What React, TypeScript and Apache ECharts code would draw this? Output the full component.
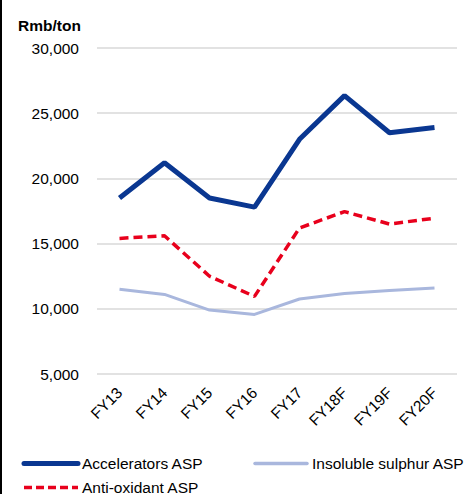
import React, { useEffect, useRef } from "react";
import * as echarts from "echarts";

const categories = ["FY13", "FY14", "FY15", "FY16", "FY17", "FY18F", "FY19F", "FY20F"];
const acceleratorsASP = [18500, 21200, 18500, 17800, 23000, 26350, 23500, 23900];
const antiOxidantASP = [15400, 15600, 12500, 10950, 16200, 17450, 16500, 16950];
const insolubleSulphurASP = [11500, 11100, 9900, 9570, 10750, 11180, 11400, 11600];
const yTicks = { min: 5000, max: 30000, interval: 5000 };
const seriesNames = ["Accelerators ASP", "Insoluble sulphur ASP", "Anti-oxidant ASP"];

const FONT = "'Liberation Sans', Arial, sans-serif";
const FS = 15.5;
const C_ACC = "#0a3791";
const C_INS = "#a9b7dd";
const C_ANT = "#e8001c";

export default function App() {
  const ref = useRef<HTMLDivElement>(null);
  useEffect(() => {
    document.body.style.margin = "0";
    const chart = echarts.init(ref.current!, null, { renderer: "svg" });
    const legendText = (x: number, y: number, text: string) => ({
      type: "text",
      x,
      y,
      style: { text, fontSize: FS, fill: "#000", fontFamily: FONT, verticalAlign: "middle", align: "left" },
    });
    chart.setOption({
      animation: false,
      textStyle: { fontFamily: FONT },
      grid: { left: 97, right: 8, top: 48, bottom: 120 },
      title: {
        text: "Rmb/ton",
        left: 13,
        top: 12,
        textStyle: { fontSize: FS, fontWeight: "bold", color: "#000", fontFamily: FONT },
      },
      graphic: [
        { type: "rect", shape: { x: 0, y: 0, width: 2, height: 494 }, style: { fill: "#000" } },
        {
          type: "line",
          shape: { x1: 24, y1: 463.5, x2: 78, y2: 463.5 },
          style: { stroke: C_ACC, lineWidth: 5, lineCap: "round" },
        },
        legendText(82, 463.5, seriesNames[0]),
        {
          type: "line",
          shape: { x1: 255, y1: 463.5, x2: 307, y2: 463.5 },
          style: { stroke: C_INS, lineWidth: 3.5, lineCap: "round" },
        },
        legendText(312, 463.5, seriesNames[1]),
        {
          type: "line",
          shape: { x1: 24, y1: 487.5, x2: 78, y2: 487.5 },
          style: { stroke: C_ANT, lineWidth: 3.5, lineDash: [8, 4] },
        },
        legendText(82, 487.5, seriesNames[2]),
      ],
      xAxis: {
        type: "category",
        data: categories,
        boundaryGap: true,
        axisLine: { show: false },
        axisTick: { show: false },
        axisLabel: { rotate: 45, fontSize: FS, color: "#000", margin: 16, interval: 0 },
      },
      yAxis: {
        type: "value",
        min: yTicks.min,
        max: yTicks.max,
        interval: yTicks.interval,
        axisLine: { show: false },
        axisTick: { show: false },
        axisLabel: {
          fontSize: FS,
          color: "#000",
          margin: 18,
          formatter: (v: number) => v.toLocaleString("en-US"),
        },
        splitLine: { lineStyle: { color: "#d9d9d9", width: 1.5 } },
      },
      series: [
        {
          name: seriesNames[0],
          type: "line",
          data: acceleratorsASP,
          symbol: "none",
          lineStyle: { color: C_ACC, width: 5 },
          itemStyle: { color: C_ACC },
          z: 3,
        },
        {
          name: seriesNames[1],
          type: "line",
          data: insolubleSulphurASP,
          symbol: "none",
          lineStyle: { color: C_INS, width: 3 },
          itemStyle: { color: C_INS },
          z: 1,
        },
        {
          name: seriesNames[2],
          type: "line",
          data: antiOxidantASP,
          symbol: "none",
          lineStyle: { color: C_ANT, width: 3.5, type: [9, 5] },
          itemStyle: { color: C_ANT },
          z: 2,
        },
      ],
    });
    return () => chart.dispose();
  }, []);
  return <div ref={ref} style={{ width: 465, height: 494 }} />;
}
